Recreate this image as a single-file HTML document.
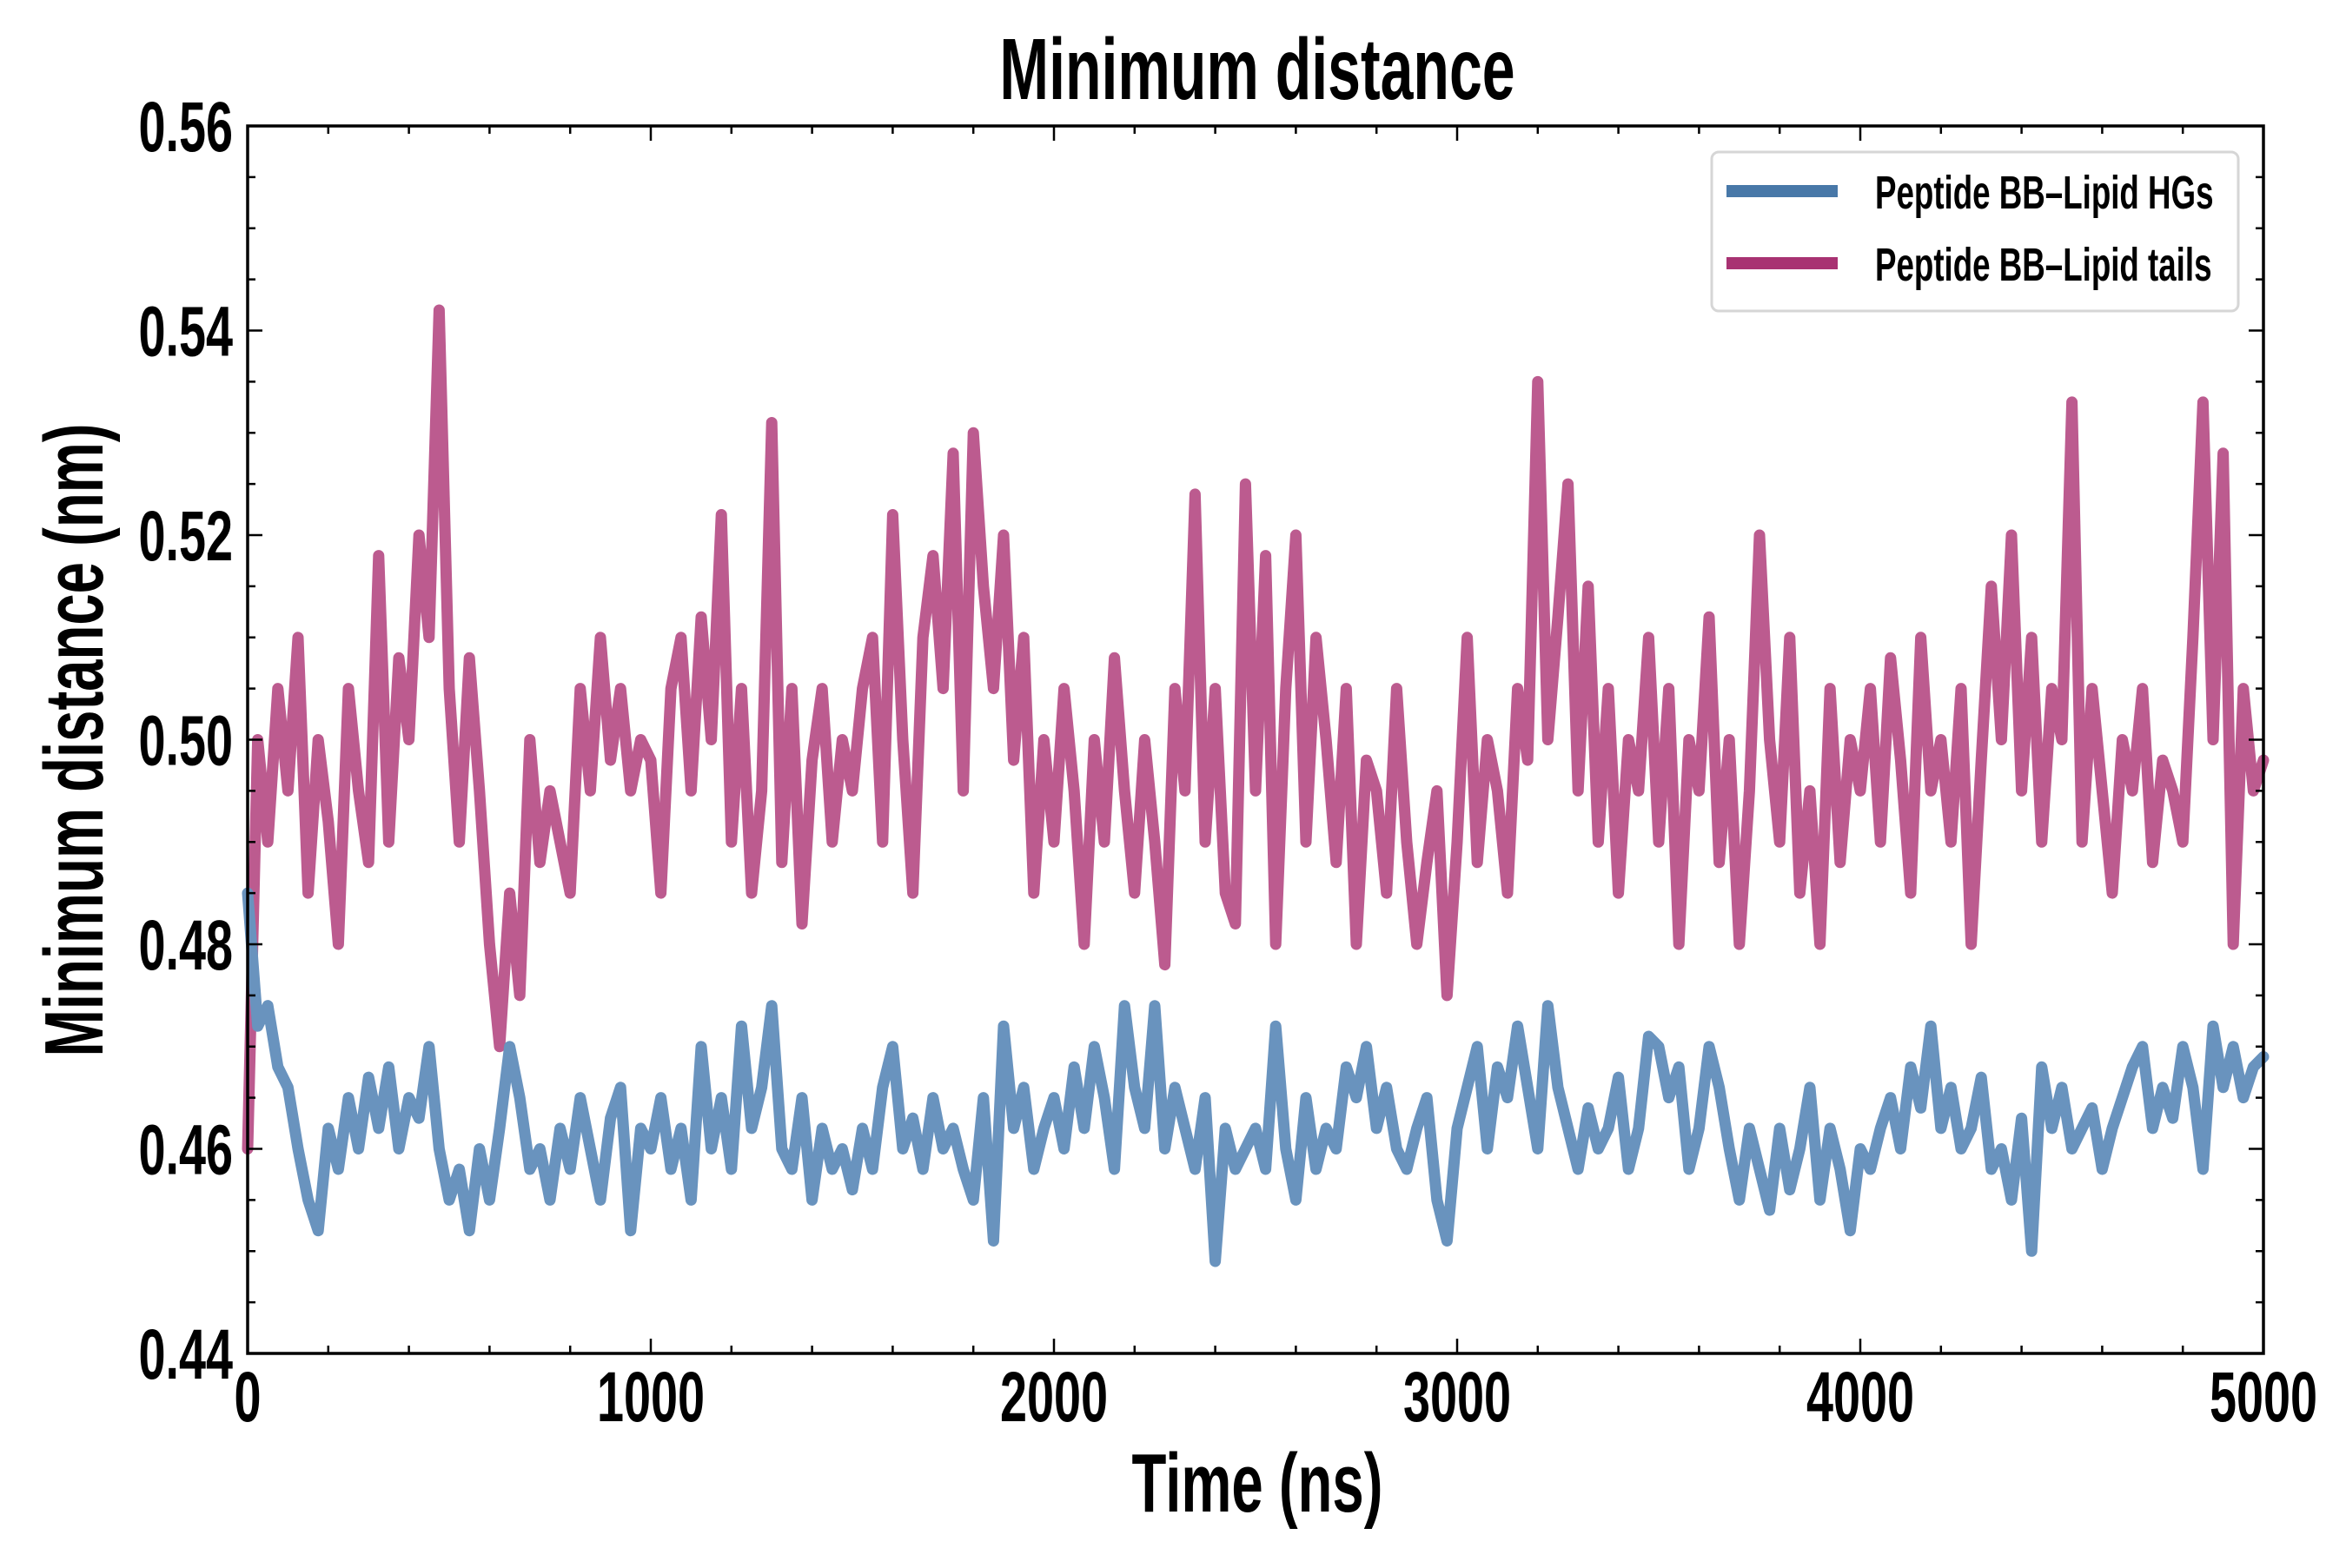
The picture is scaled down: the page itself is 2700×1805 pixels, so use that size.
<!DOCTYPE html>
<html><head><meta charset="utf-8"><style>
html,body{margin:0;padding:0;background:#fff;}
svg text{font-family:"Liberation Sans",sans-serif;font-weight:bold;fill:#000;}
</style></head><body>
<svg id="chart" width="2700" height="1800" viewBox="0 0 2700 1800" xmlns="http://www.w3.org/2000/svg">
<rect width="2700" height="1800" fill="#fff"/>
<text transform="translate(1447,114) scale(0.68,1)" font-size="100" text-anchor="middle">Minimum distance</text>
<g id="series"></g>
<g id="axes"></g>
<text transform="translate(1447,1740) scale(0.68,1)" font-size="96" text-anchor="middle">Time (ns)</text>
<text transform="translate(118,852) rotate(-90) scale(0.68,1)" font-size="96" text-anchor="middle">Minimum distance (nm)</text>
<g>
<rect x="1970" y="175" width="606" height="183" rx="8" fill="#fff" stroke="#d6d6d6" stroke-width="3"/>
<line x1="1987" y1="220" x2="2115" y2="220" stroke="#4878a8" stroke-width="14"/>
<text transform="translate(2158,240) scale(0.68,1)" font-size="54">Peptide BB–Lipid HGs</text>
<line x1="1987" y1="303" x2="2115" y2="303" stroke="#a83272" stroke-width="14"/>
<text transform="translate(2158,323) scale(0.68,1)" font-size="54">Peptide BB–Lipid tails</text>
</g>
</svg>
<script>
const xTicks=[0,1000,2000,3000,4000,5000];
const yTicks=[0.44,0.46,0.48,0.50,0.52,0.54,0.56];
const yTickLabels=["0.44","0.46","0.48","0.50","0.52","0.54","0.56"];
const tailsValues=[0.460,0.500,0.490,0.505,0.495,0.510,0.485,0.500,0.492,0.480,0.505,0.495,0.488,0.518,0.490,0.508,0.500,0.520,0.510,0.542,
0.505,0.490,0.508,0.495,0.480,0.470,0.485,0.475,0.500,0.488,0.495,0.490,0.485,0.505,0.495,0.510,0.498,0.505,0.495,0.500,
0.498,0.485,0.505,0.510,0.495,0.512,0.500,0.522,0.490,0.505,0.485,0.495,0.531,0.488,0.505,0.482,0.498,0.505,0.490,0.500,
0.495,0.505,0.510,0.490,0.522,0.500,0.485,0.510,0.518,0.505,0.528,0.495,0.530,0.515,0.505,0.520,0.498,0.510,0.485,0.500,
0.490,0.505,0.495,0.480,0.500,0.490,0.508,0.495,0.485,0.500,0.490,0.478,0.505,0.495,0.524,0.490,0.505,0.485,0.482,0.525,
0.495,0.518,0.480,0.505,0.520,0.490,0.510,0.500,0.488,0.505,0.480,0.498,0.495,0.485,0.505,0.490,0.480,0.488,0.495,0.475,
0.490,0.510,0.488,0.500,0.495,0.485,0.505,0.498,0.535,0.500,0.512,0.525,0.495,0.515,0.490,0.505,0.485,0.500,0.495,0.510,
0.490,0.505,0.480,0.500,0.495,0.512,0.488,0.500,0.480,0.495,0.520,0.500,0.490,0.510,0.485,0.495,0.480,0.505,0.488,0.500,
0.495,0.505,0.490,0.508,0.498,0.485,0.510,0.495,0.500,0.490,0.505,0.480,0.498,0.515,0.500,0.520,0.495,0.510,0.490,0.505,
0.500,0.533,0.490,0.505,0.495,0.485,0.500,0.495,0.505,0.488,0.498,0.495,0.490,0.510,0.533,0.500,0.528,0.480,0.505,0.495,0.498];
const hgsValues=[0.485,0.472,0.474,0.468,0.466,0.460,0.455,0.452,0.462,0.458,0.465,0.460,0.467,0.462,0.468,0.460,0.465,0.463,0.470,0.460,
0.455,0.458,0.452,0.460,0.455,0.462,0.470,0.465,0.458,0.460,0.455,0.462,0.458,0.465,0.460,0.455,0.463,0.466,0.452,0.462,
0.460,0.465,0.458,0.462,0.455,0.470,0.460,0.465,0.458,0.472,0.462,0.466,0.474,0.460,0.458,0.465,0.455,0.462,0.458,0.460,
0.456,0.462,0.458,0.466,0.470,0.460,0.463,0.458,0.465,0.460,0.462,0.458,0.455,0.465,0.451,0.472,0.462,0.466,0.458,0.462,
0.465,0.460,0.468,0.462,0.470,0.465,0.458,0.474,0.466,0.462,0.474,0.460,0.466,0.462,0.458,0.465,0.449,0.462,0.458,0.460,
0.462,0.458,0.472,0.460,0.455,0.465,0.458,0.462,0.460,0.468,0.465,0.470,0.462,0.466,0.460,0.458,0.462,0.465,0.455,0.451,
0.462,0.466,0.470,0.460,0.468,0.465,0.472,0.466,0.460,0.474,0.466,0.462,0.458,0.464,0.460,0.462,0.467,0.458,0.462,0.471,
0.470,0.465,0.468,0.458,0.462,0.470,0.466,0.460,0.455,0.462,0.458,0.454,0.462,0.456,0.460,0.466,0.455,0.462,0.458,0.452,
0.460,0.458,0.462,0.465,0.460,0.468,0.464,0.472,0.462,0.466,0.460,0.462,0.467,0.458,0.460,0.455,0.463,0.450,0.468,0.462,
0.466,0.460,0.462,0.464,0.458,0.462,0.465,0.468,0.470,0.462,0.466,0.463,0.470,0.466,0.458,0.472,0.466,0.470,0.465,0.468,0.469];
const tMax=5000;
const L=285,R=2605,T=145,B=1558,yMin=0.44,yMax=0.56;
const NS='http://www.w3.org/2000/svg';
function xs(t){return L+(t/tMax)*(R-L);}
function ys(v){return B-(v-yMin)/(yMax-yMin)*(B-T);}
function mk(tag,attrs){const e=document.createElementNS(NS,tag);for(const k in attrs)e.setAttribute(k,attrs[k]);return e;}
const sg=document.getElementById('series');
function drawSeries(vals,color,name){
  const step=tMax/(vals.length-1);
  const d=vals.map((v,i)=>(i?'L':'M')+xs(i*step).toFixed(1)+','+ys(v).toFixed(1)).join('');
  const p=mk('path',{d:d,fill:'none',stroke:color,'stroke-width':13,'stroke-linejoin':'round','stroke-linecap':'round'});
  
  
  sg.appendChild(p);
}
drawSeries(tailsValues,'#bc5b8f','series-lipid-tails');
drawSeries(hgsValues,'#6993be','series-lipid-hgs');
const ax=document.getElementById('axes');
const frame=mk('rect',{x:L,y:T,width:R-L,height:B-T,fill:'none',stroke:'#000','stroke-width':3.5});


ax.appendChild(frame);
for(let t=0;t<=tMax;t+=200){
  const major=t%1000===0,len=major?17:9,x=xs(t);
  const a=mk('line',{x1:x,y1:B,x2:x,y2:B-len,stroke:'#000','stroke-width':2.5});
  
  
  ax.appendChild(a);
  const b=mk('line',{x1:x,y1:T,x2:x,y2:T+len,stroke:'#000','stroke-width':2.5});
  
  
  ax.appendChild(b);
}
for(let k=0;k<=24;k++){
  const v=yMin+k*0.005,major=k%4===0,len=major?17:9,y=ys(v);
  const a=mk('line',{x1:L,y1:y,x2:L+len,y2:y,stroke:'#000','stroke-width':2.5});
  
  
  ax.appendChild(a);
  const b=mk('line',{x1:R,y1:y,x2:R-len,y2:y,stroke:'#000','stroke-width':2.5});
  
  
  ax.appendChild(b);
}
xTicks.forEach(t=>{
  const tx=mk('text',{transform:'translate('+xs(t)+',1636) scale(0.68,1)','font-size':82,'text-anchor':'middle'});
  tx.textContent=String(t);
  
  
  ax.appendChild(tx);
});
yTicks.forEach((v,i)=>{
  const tx=mk('text',{transform:'translate(268,'+(ys(v)+29)+') scale(0.68,1)','font-size':82,'text-anchor':'end'});
  tx.textContent=yTickLabels[i];
  
  
  ax.appendChild(tx);
});
</script>
</body></html>
